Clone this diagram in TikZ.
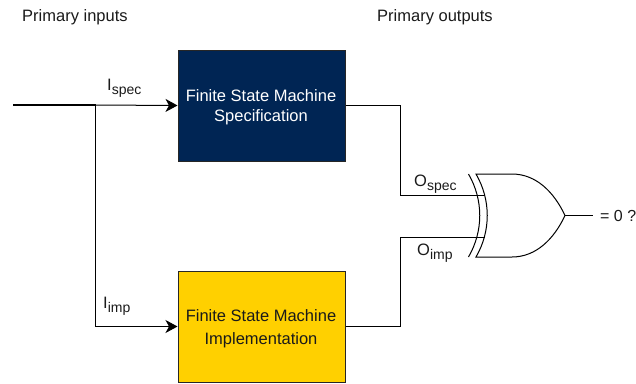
\documentclass[tikz,border=0pt]{standalone}
\usepackage{fontspec}
\setmainfont{Liberation Sans}
\usetikzlibrary{arrows.meta,calc}
\definecolor{specblue}{HTML}{002554}
\definecolor{impyellow}{HTML}{FFD000}
\definecolor{inktext}{HTML}{1A1A1A}
\tikzset{
  x=1pt,y=-1pt,
  fsmbox/.style={draw=black!85,line width=1pt,minimum width=167pt,minimum height=111pt,align=center,inner sep=0pt},
  boxtext/.style={inner sep=0pt,align=center,font=\fontsize{16.5}{22}\selectfont},
  wire/.style={draw=black,line width=1pt},
  arrowwire/.style={wire,-{Stealth[length=12pt,width=13pt,inset=3.5pt]}},
  lbl/.style={inner sep=0pt,text=inktext,font=\fontsize{16.5}{18}\selectfont},
  sig/.style={inner sep=0pt,text=inktext,font=\fontsize{16.5}{18}\selectfont},
}
\newcommand{\sigsub}[2]{#1\raisebox{-4pt}{\fontsize{14}{15}\selectfont #2}}
\begin{document}
\begin{tikzpicture}
\useasboundingbox (0,0) rectangle (636,383);
\node[fsmbox,fill=specblue] (spec) at (261.5,105.5) {};
\node[fsmbox,fill=impyellow] (imp) at (261.5,326.5) {};
\node[boxtext,text=white,anchor=base] at (261,101) {Finite State Machine};
\node[boxtext,text=white,anchor=base] at (261,121) {Specification};
\node[boxtext,text=inktext,anchor=base] at (261,321) {Finite State Machine};
\node[boxtext,text=inktext,anchor=base] at (261,344) {Implementation};
\coordinate (start) at (13,105);
\coordinate (branch) at (95.5,105);
\coordinate (topin) at (484.5,195);
\coordinate (botin) at (484.5,237);
\coordinate (tip) at (565,215.5);
\coordinate (outend) at (593,215.5);
\draw[wire,line width=1.4pt] (start) -- (branch);
\draw[arrowwire] (branch) -- (spec.west);
\draw[wire] (branch) |- (95.5,326.5);
\draw[arrowwire] (95.5,326.5) -- (imp.west);
\draw[wire] (spec.east) -| (400,195) -- (topin);
\draw[wire] (imp.east) -| (400,237) -- (botin);
\draw[wire,line join=miter] (476,174) -- (512,174) .. controls (536,174) and (554,192) .. (tip)
   .. controls (554,239) and (536,257) .. (512,257) -- (476,257)
   .. controls (491,231) and (491,200) .. cycle;
\draw[wire] (468.5,174) .. controls (483.5,200) and (483.5,231) .. (468.5,257);
\draw[wire] (tip) -- (outend);
\node[lbl,anchor=base west] at (22,21) {Primary inputs};
\node[lbl,anchor=base west] at (377,21) {Primary outputs};
\node[sig,anchor=base west] at (107,90) {\sigsub{I}{spec}};
\node[sig,anchor=base west] at (103,308) {\sigsub{I}{imp}};
\node[sig,anchor=base west] at (414,186) {\sigsub{O}{spec}};
\node[sig,anchor=base west] at (417,255) {\sigsub{O}{imp}};
\node[lbl,anchor=base west,font=\fontsize{16}{18}\selectfont] at (600,221) {= 0 ?};
\end{tikzpicture}
\end{document}
